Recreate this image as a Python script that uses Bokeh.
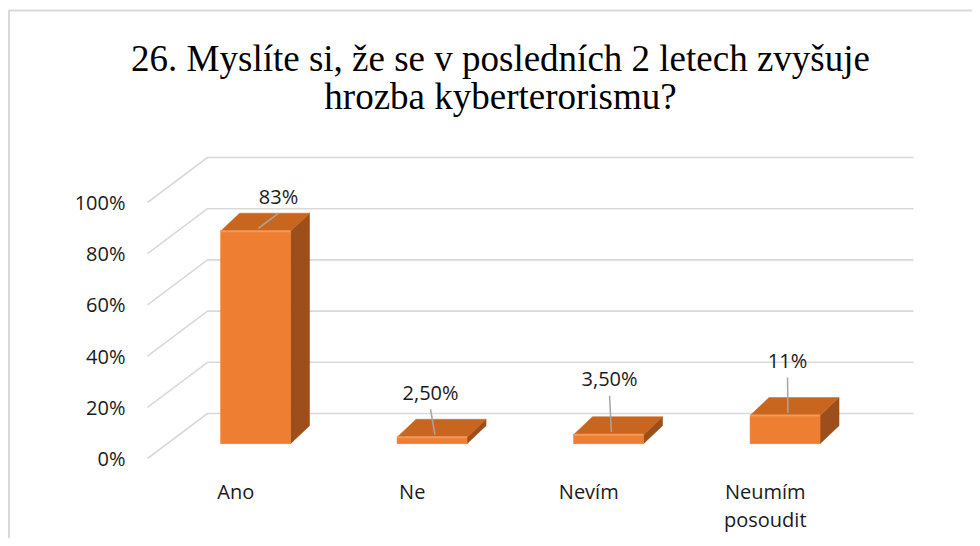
from bokeh.plotting import figure
from bokeh.models import Range1d, ColumnDataSource
from bokeh.embed import file_html
from bokeh.resources import INLINE
from bokeh.core.properties import value

# ---------------- data ----------------
title_lines = ["26. Myslíte si, že se v posledních 2 letech zvyšuje",
               "hrozba kyberterorismu?"]
categories = ["Ano", "Ne", "Nevím", "Neumím\nposoudit"]
values = [83, 2.5, 3.5, 11]
value_labels = ["83%", "2,50%", "3,50%", "11%"]
y_ticks = [0, 20, 40, 60, 80, 100]
y_tick_labels = ["0%", "20%", "40%", "60%", "80%", "100%"]

# ---------------- layout / style ----------------
W, H = 972, 538
PX_PER_CAT = 176.5          # pixels per category slot
PX_PER_PCT = 2.56           # pixels per percent
ORIGIN_X = 147              # canvas px of front-left floor corner
ORIGIN_Y = 458              # canvas px of front 0 %
DEPTH_DX = 60 / PX_PER_CAT  # floor depth in data units
DEPTH_DY = 45 / PX_PER_PCT
D0 = 0.33                   # bar front position inside depth
BAR_HW = 35 / PX_PER_CAT
BAR_DX = 19 / PX_PER_CAT
BAR_DY = 18 / PX_PER_PCT
label_nudge_x = [23, -1.5, 1, 2.5]      # px
label_nudge_y = [-35, -45, -56, -55]    # px (down positive)

FRONT = "#EE7E32"
EDGE = "#F39A5A"
TOP = "#C8661F"
SIDE = "#9C4F1B"
GRID = "#d9d9d9"
TEXT = "#1a1a1a"
SANS = value("Open Sans")

x0 = -ORIGIN_X / PX_PER_CAT
x1 = (W - ORIGIN_X) / PX_PER_CAT
y0 = -(H - ORIGIN_Y) / PX_PER_PCT
y1 = ORIGIN_Y / PX_PER_PCT

p = figure(width=W, height=H, x_range=Range1d(x0, x1), y_range=Range1d(y0, y1),
           x_axis_type=None, y_axis_type=None, toolbar_location=None,
           output_backend="svg", min_border=0, outline_line_color=None)
p.grid.visible = False
p.background_fill_color = "white"

# chart border (left + top)
bx = x0 + 8.5 / PX_PER_CAT
by_top = y1 - 10 / PX_PER_PCT
p.line([bx, bx, x1], [y0, by_top, by_top], line_color=GRID, line_width=2)

n = len(categories)

# gridlines: floor diagonal + back wall
gx, gy = [], []
for v in y_ticks:
    gx.append([0, DEPTH_DX, n + DEPTH_DX])
    gy.append([v, v + DEPTH_DY, v + DEPTH_DY])
p.multi_line(gx, gy, line_color=GRID, line_width=1.6)

# bars
fxs, fys, txs, tys, sxs, sys_ = [], [], [], [], [], []
ex_, ey_ = [], []
top_cx, top_cy = [], []
for i, v in enumerate(values):
    cx = i + 0.5 + D0 * DEPTH_DX
    b = D0 * DEPTH_DY
    l, r = cx - BAR_HW, cx + BAR_HW
    t = b + v
    fxs.append([l, r, r, l]); fys.append([b, b, t, t])
    txs.append([l, r, r + BAR_DX, l + BAR_DX]); tys.append([t, t, t + BAR_DY, t + BAR_DY])
    sxs.append([r, r + BAR_DX, r + BAR_DX, r]); sys_.append([b, b + BAR_DY, t + BAR_DY, t])
    ex_.append([l, r]); ey_.append([t, t])
    top_cx.append(cx); top_cy.append(t)

p.patches(sxs, sys_, fill_color=SIDE, line_color=SIDE, line_width=0.5)
p.patches(txs, tys, fill_color=TOP, line_color=TOP, line_width=0.5)
p.patches(fxs, fys, fill_color=FRONT, line_color=FRONT, line_width=0.5)
p.multi_line(ex_, ey_, line_color=EDGE, line_width=2)

# leader lines
lx, ly = [], []
for i in range(n):
    sx = top_cx[i] + 0.15 * BAR_DX
    sy = top_cy[i] + 0.15 * BAR_DY
    ex = top_cx[i] + label_nudge_x[i] / PX_PER_CAT
    ey = top_cy[i] - (label_nudge_y[i] + 17) / PX_PER_PCT
    lx.append([sx, ex]); ly.append([sy, ey])
p.multi_line(lx, ly, line_color="#a6a6a6", line_width=1.5)

# value labels
vsrc = ColumnDataSource(dict(x=top_cx, y=top_cy, text=value_labels,
                             dx=label_nudge_x, dy=label_nudge_y))
p.text(x="x", y="y", text="text", x_offset="dx", y_offset="dy", source=vsrc,
       text_font=SANS, text_font_size="20px", text_color=TEXT,
       text_align="center", text_baseline="middle")

# y tick labels
p.text(x=[0] * len(y_ticks), y=y_ticks, text=y_tick_labels, x_offset=-22,
       text_font=SANS, text_font_size="20px", text_color=TEXT,
       text_align="right", text_baseline="middle")

# category labels (split multi-line)
cx_, cy_, ct, co = [], [], [], []
for i, c in enumerate(categories):
    for k, line in enumerate(c.split("\n")):
        cx_.append(i + 0.5); cy_.append(0); ct.append(line); co.append(33 + 27.5 * k)
csrc = ColumnDataSource(dict(x=cx_, y=cy_, text=ct, off=co))
p.text(x="x", y="y", text="text", y_offset="off", source=csrc,
       text_font=SANS, text_font_size="20px", text_color=TEXT,
       text_align="center", text_baseline="middle")

# title
tcenter = (500 - ORIGIN_X) / PX_PER_CAT
p.text(x=[tcenter] * len(title_lines), y=[y1] * len(title_lines), text=title_lines,
       y_offset=[58 + 38 * k for k in range(len(title_lines))],
       text_font=value("Liberation Serif"), text_font_size="37px", text_color="black",
       text_align="center", text_baseline="middle")

open("out.html", "w").write(file_html(p, INLINE))
